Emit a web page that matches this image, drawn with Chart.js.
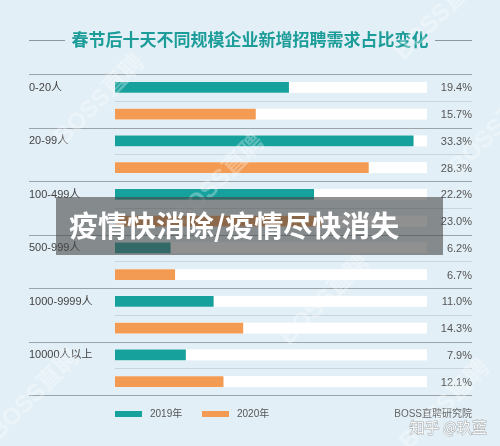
<!DOCTYPE html>
<html>
<head>
<meta charset="utf-8">
<script src="https://cdn.jsdelivr.net/npm/chart.js@4.4.1/dist/chart.umd.min.js"></script>
<style>
  html, body { margin: 0; padding: 0; background: #e3eff6; overflow: hidden; }
  canvas { display: block; }
</style>
</head>
<body>
<canvas id="chart" width="500" height="446"></canvas>
<script>
const TITLE = "春节后十天不同规模企业新增招聘需求占比变化";
const BANNER = "疫情快消除/疫情尽快消失";
const SOURCE = "BOSS直聘研究院";
const CREDIT = "知乎 @玖蓝";

const categories = ["0-20人", "20-99人", "100-499人", "500-999人", "1000-9999人", "10000人以上"];
const seriesNames = ["2019年", "2020年"];
const values2019 = [19.4, 33.3, 22.2, 6.2, 11.0, 7.9];
const values2020 = [15.7, 28.3, 23.0, 6.7, 14.3, 12.1];
const axisMax = 34.8;

const colors = {
  teal: "#17a19c",
  orange: "#f39b52",
  title: "#1c9d99",
  track: "#ffffff",
  line: "#9aa4a9",
  lineLight: "#c9d5dc",
};
const FONT = '"Liberation Sans", "Noto Sans CJK SC", sans-serif';
const CJK = '"Noto Sans CJK SC", sans-serif';

const decor = {
  id: "decor",
  beforeDatasetsDraw(chart) {
    const { ctx, chartArea, scales } = chart;
    const y = scales.y;
    const x = scales.x;
    const step = (chartArea.bottom - chartArea.top) / categories.length;
    ctx.save();
    // white tracks behind each bar
    ctx.fillStyle = colors.track;
    chart.data.datasets.forEach((ds, di) => {
      chart.getDatasetMeta(di).data.forEach((bar) => {
        const h = bar.height;
        ctx.fillRect(x.getPixelForValue(0), bar.y - h / 2, x.getPixelForValue(axisMax) - x.getPixelForValue(0), h);
      });
    });
    // separators
    ctx.lineWidth = 1;
    categories.forEach((c, i) => {
      const mid = y.getPixelForValue(i);
      ctx.strokeStyle = colors.line;
      ctx.beginPath();
      ctx.moveTo(29, Math.round(mid - step / 2) + 0.5);
      ctx.lineTo(472, Math.round(mid - step / 2) + 0.5);
      ctx.stroke();
      ctx.strokeStyle = colors.lineLight;
      ctx.beginPath();
      ctx.moveTo(x.getPixelForValue(0), Math.round(mid) + 0.5);
      ctx.lineTo(472, Math.round(mid) + 0.5);
      ctx.stroke();
    });
    ctx.strokeStyle = colors.line;
    ctx.beginPath();
    ctx.moveTo(29, Math.round(chartArea.bottom) + 0.5);
    ctx.lineTo(472, Math.round(chartArea.bottom) + 0.5);
    ctx.stroke();
    ctx.restore();
  },
  afterDatasetsDraw(chart) {
    const { ctx } = chart;
    ctx.save();
    // value labels
    ctx.font = "11px " + FONT;
    ctx.fillStyle = "#555";
    ctx.textAlign = "right";
    ctx.textBaseline = "middle";
    chart.data.datasets.forEach((ds, di) => {
      chart.getDatasetMeta(di).data.forEach((bar, i) => {
        ctx.fillText(ds.data[i].toFixed(1) + "%", 472, bar.y + 1);
      });
    });

    // title
    ctx.font = "bold 17px " + CJK;
    ctx.fillStyle = colors.title;
    ctx.textAlign = "center";
    ctx.fillText(TITLE, 250, 40);
    ctx.strokeStyle = "#8c979c";
    ctx.beginPath();
    ctx.moveTo(29, 40.5); ctx.lineTo(65, 40.5);
    ctx.moveTo(435, 40.5); ctx.lineTo(472, 40.5);
    ctx.stroke();

    // legend
    const legendX = [115, 202];
    chart.data.datasets.forEach((ds, di) => {
      ctx.fillStyle = ds.backgroundColor;
      ctx.fillRect(legendX[di], 411, 27, 6);
      ctx.fillStyle = "#555";
      ctx.font = "10px " + FONT;
      ctx.textAlign = "left";
      ctx.fillText(ds.label, legendX[di] + 35, 414);
    });
    ctx.textAlign = "right";
    ctx.fillStyle = "#666";
    ctx.fillText(SOURCE, 472, 414);

    // BOSS watermarks
    ctx.font = "bold 24px " + FONT;
    ctx.fillStyle = "rgba(255,255,255,0.3)";
    ctx.textAlign = "center";
    [[100, 100], [440, 15], [220, 180], [325, 300], [35, 395], [445, 405], [495, 130]].forEach(([wx, wy]) => {
      ctx.save();
      ctx.translate(wx, wy);
      ctx.rotate(-Math.PI / 4);
      ctx.fillText("BOSS直聘", 0, 0);
      ctx.restore();
    });

    // credit
    ctx.font = "15px " + CJK;
    ctx.textAlign = "right";
    ctx.lineWidth = 1;
    ctx.strokeStyle = "rgba(110,110,110,0.55)";
    ctx.fillStyle = "rgba(255,255,255,0.9)";
    ctx.strokeText(CREDIT, 487, 427);
    ctx.fillText(CREDIT, 487, 427);

    // banner
    ctx.fillStyle = "rgba(70,70,70,0.6)";
    ctx.fillRect(56, 197, 387, 58);
    ctx.font = "bold 29px " + CJK;
    ctx.fillStyle = "#ffffff";
    ctx.textAlign = "left";
    ctx.fillText(BANNER, 69, 226);
    ctx.restore();
  },
};

new Chart(document.getElementById("chart"), {
  type: "bar",
  data: {
    labels: categories,
    datasets: [
      { label: seriesNames[0], data: values2019, backgroundColor: colors.teal },
      { label: seriesNames[1], data: values2020, backgroundColor: colors.orange },
    ],
  },
  options: {
    indexAxis: "y",
    responsive: false,
    animation: false,
    devicePixelRatio: 1,
    categoryPercentage: 1,
    barPercentage: 0.41,
    layout: { padding: { left: 29, right: 73, top: 74, bottom: 51 } },
    plugins: {
      legend: { display: false },
      title: { display: false },
      tooltip: { enabled: false },
    },
    scales: {
      x: { display: false, min: 0, max: axisMax },
      y: {
        grid: { display: false },
        border: { display: false },
        afterFit: (scale) => { scale.width = 86; },
        ticks: {
          crossAlign: "far",
          labelOffset: -13,
          padding: 0,
          color: "#444",
          font: { size: 11, family: FONT },
        },
      },
    },
  },
  plugins: [decor],
});
</script>
</body>
</html>
